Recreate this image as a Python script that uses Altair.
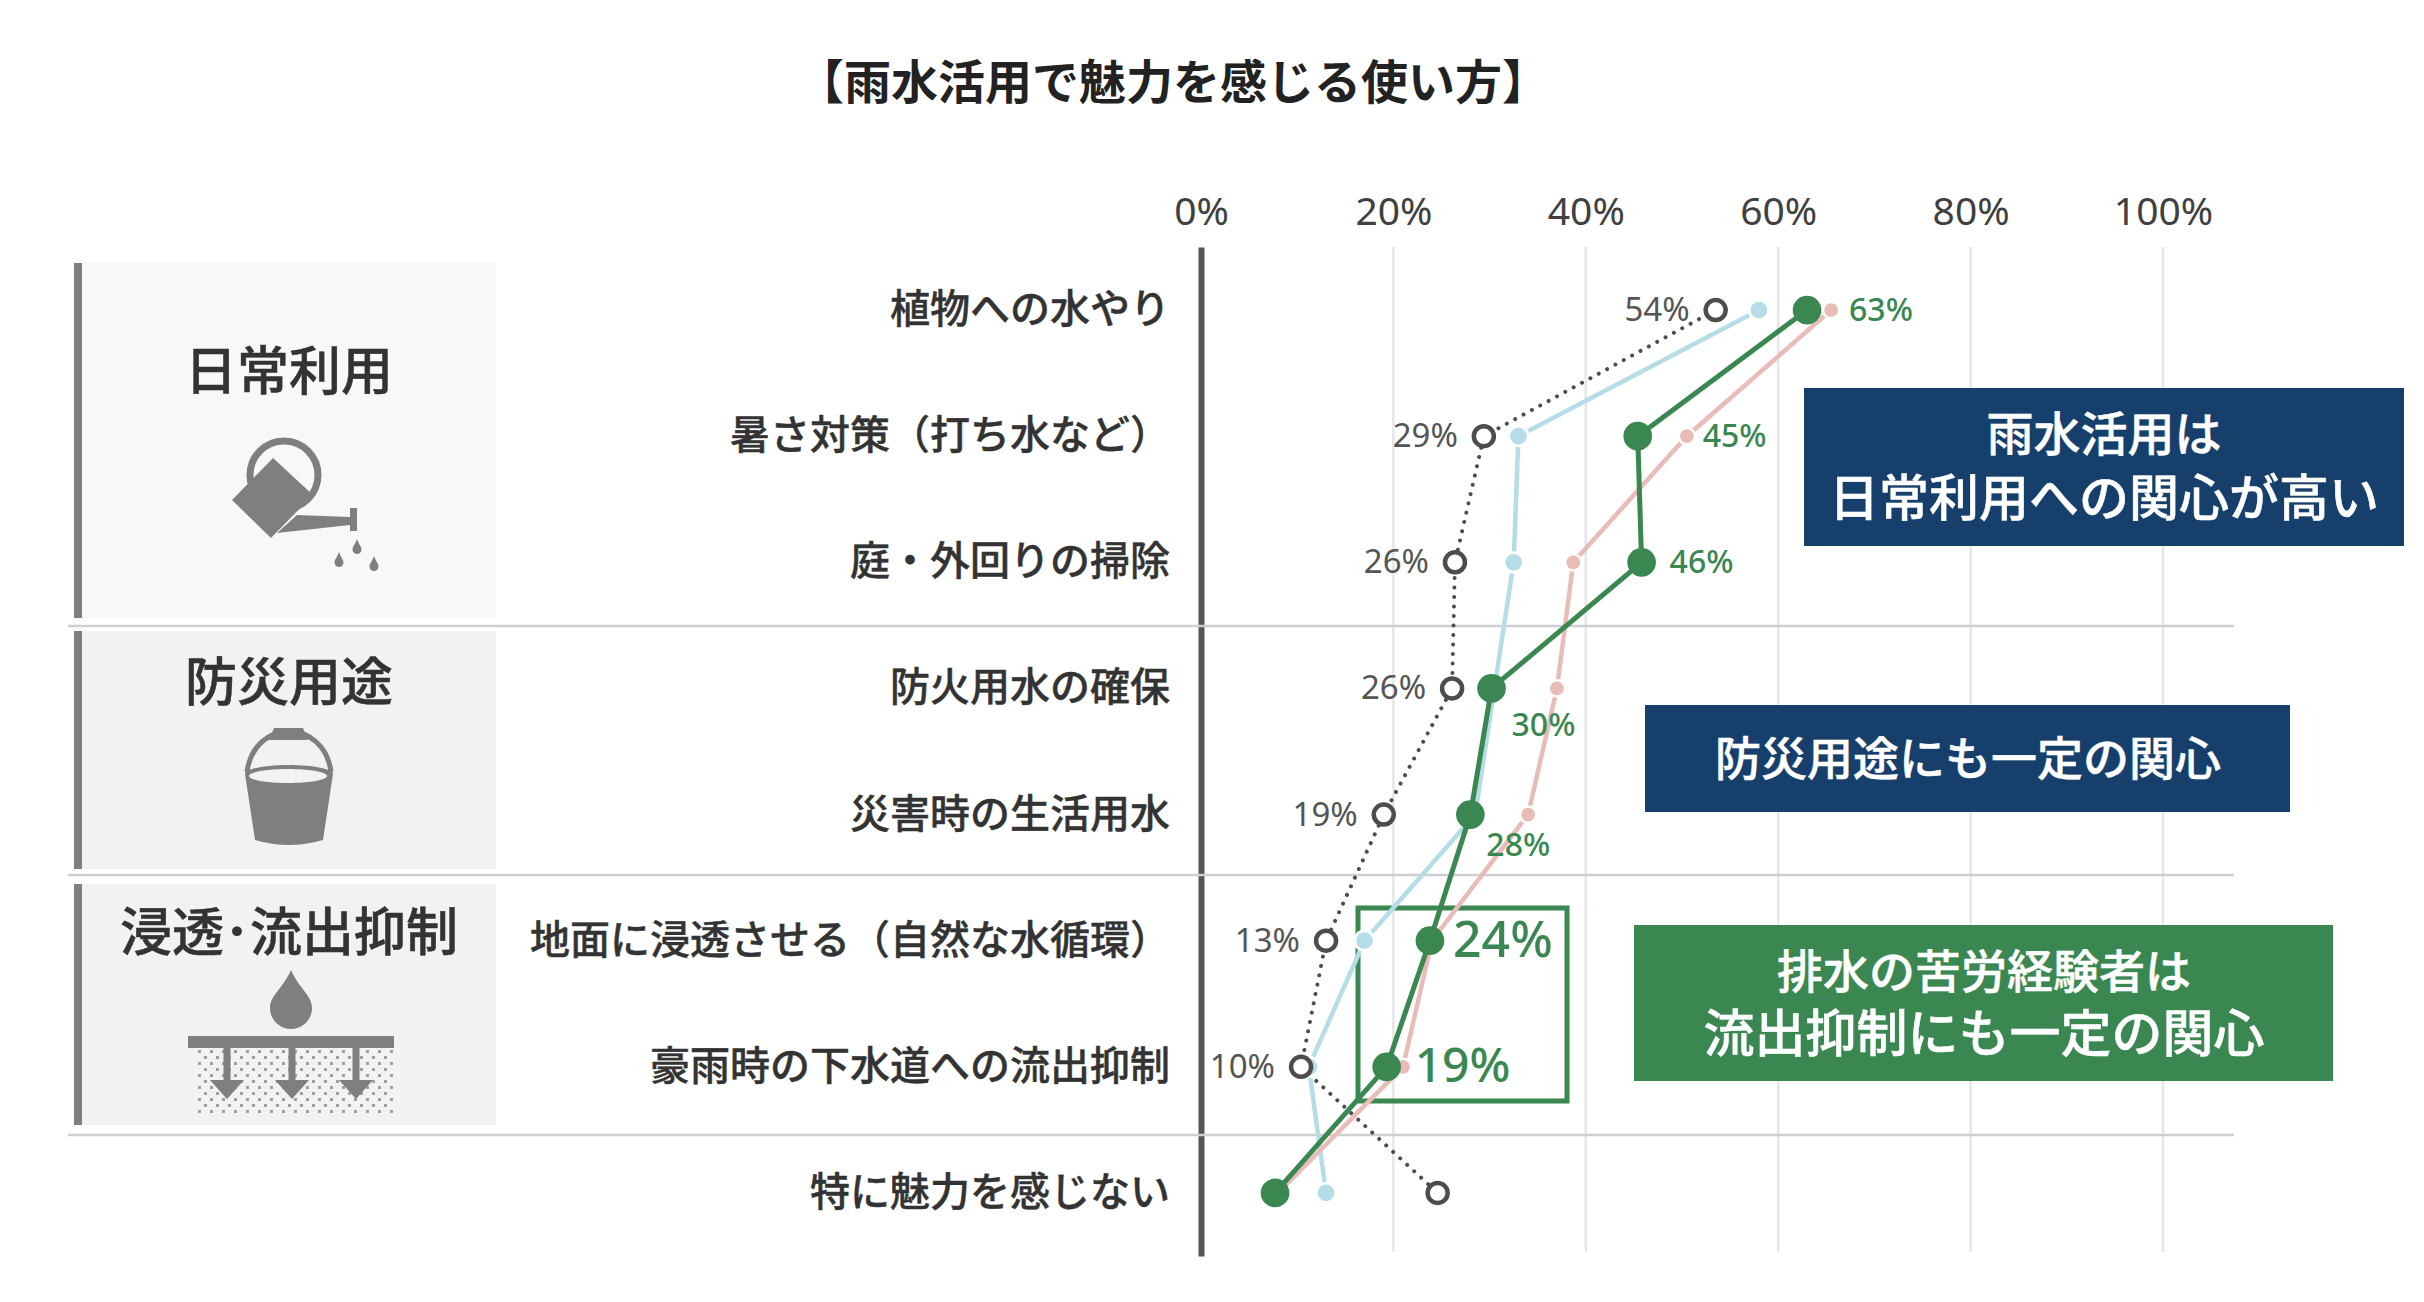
import altair as alt
import pandas as pd

FONT = 'Noto Sans CJK JP'
NUM_FONT = 'Noto Sans'
GREEN = '#3a8752'
NAVY = '#173f6b'
TEAL = '#b5dde8'
PINK = '#e9bcb8'
DARK = '#555555'
ICON = '#7f7f7f'

items = ['植物への水やり', '暑さ対策(打ち水など)', '庭・外回りの掃除', '防火用水の確保', '災害時の生活用水',
         '地面に浸透させる(自然な水循環)', '豪雨時の下水道への流出抑制', '特に魅力を感じない']
items = [s.replace('(', '（').replace(')', '）') for s in items]

overall = [53.5, 29.4, 26.4, 26.1, 19, 13, 10.4, 24.6]
overall_labels = ['54%', '29%', '26%', '26%', '19%', '13%', '10%', '']
teal_vals = [58, 33, 32.5, 30.5, 28.5, 17, 11.2, 13]
pink_vals = [65.5, 50.5, 38.7, 37, 34, 24, 21, 8]
green_vals = [63, 45.4, 45.8, 30.2, 28, 23.8, 19.3, 7.7]
green_labels = ['63%', '45%', '46%', '30%', '28%', '24%', '19%', '']
ticks = [0, 20, 40, 60, 80, 100]

W, H = 2408, 1286
ZERO_PX, PX_PER_PCT = 1193, 9.62
x_scale = alt.Scale(domain=[-ZERO_PX / PX_PER_PCT, (W - ZERO_PX) / PX_PER_PCT], range=[0, W], nice=False, zero=False)
y_scale = alt.Scale(domain=items, range=[239, 1248])

one = pd.DataFrame({'a': [0]})


def frame(vals):
    return pd.DataFrame({'item': items, 'value': vals, 'row': range(len(items))})


def box(x0, x1, y0, y1, color):
    return alt.Chart(one).mark_rect(color=color).encode(x=alt.value(x0), x2=alt.value(x1), y=alt.value(y0), y2=alt.value(y1))


def hline(x0, x1, y):
    return alt.Chart(one).mark_rule(color='#cfcfcf', strokeWidth=2.5).encode(x=alt.value(x0), x2=alt.value(x1), y=alt.value(y))


def label(text, x, y, size, color='#333333', weight=500, font=FONT, bold=0.5):
    return alt.Chart(one).mark_text(text=text, font=font, fontSize=size, fontWeight=weight, color=color, stroke=color, strokeWidth=bold, align='center', baseline='middle').encode(x=alt.value(x), y=alt.value(y))


def glyph(path, fill=ICON):
    # size 4 makes the path's units equal to chart pixels
    return alt.Chart(one).mark_point(shape=path, size=4, filled=True, fill=fill, opacity=1, strokeWidth=0).encode(x=alt.value(0), y=alt.value(0))


def outline(path, width, color=ICON):
    return alt.Chart(one).mark_point(shape=path, size=4, filled=False, stroke=color, opacity=1, strokeWidth=width).encode(x=alt.value(0), y=alt.value(0))


def drop(cx, top, bottom, w):
    r = w / 2
    c = bottom - r
    return f'M{cx} {top} C{cx + r * 0.4} {top + (c - top) * 0.5} {cx + r} {c - r * 0.6} {cx + r} {c} A{r} {r} 0 1 1 {cx - r} {c} C{cx - r} {c - r * 0.6} {cx - r * 0.4} {top + (c - top) * 0.5} {cx} {top} Z'


def series_line(vals, color, width, **kw):
    return alt.Chart(frame(vals)).mark_line(color=color, strokeWidth=width, **kw).encode(
        x=alt.X('value:Q', scale=x_scale), y=alt.Y('item:N', scale=y_scale, sort=items), order='row:Q')


def series_dots(vals, color, size):
    return alt.Chart(frame(vals)).mark_point(filled=True, color=color, size=size, opacity=1).encode(
        x=alt.X('value:Q', scale=x_scale), y=alt.Y('item:N', scale=y_scale, sort=items))


# 左側の区分パネル
panels = [
    box(74, 488, 255, 610, '#f8f8f8'), box(66, 74, 255, 610, ICON),
    box(74, 488, 623, 861, '#f2f2f2'), box(66, 74, 623, 861, ICON),
    box(74, 488, 876, 1117, '#f2f2f2'), box(66, 74, 876, 1117, ICON),
    label('日常利用', 281, 366, 52),
    label('防災用途', 281, 677, 52),
    label('浸透･流出抑制', 281, 927, 52),
]

# じょうろ
can = [
    outline('M242 467 A34 34 0 1 1 310 467 A34 34 0 1 1 242 467 Z', 7),
    glyph('M265 450 L224 492 L263 530 L305 487 Z'),
    glyph('M289 507 L342 509 L342 517 L269 525 Z'),
    glyph('M342 500 L349 500 L349 523 L342 523 Z'),
    glyph(drop(349, 531, 546, 9)),
    glyph(drop(331, 544, 559, 9)),
    glyph(drop(366, 548, 563, 9)),
]

# バケツ
bucket = [
    outline('M239 764 C246 710 316 710 323 764', 5),
    glyph('M261 732 L266 720 L295 720 L300 732 Z'),
    glyph('M237 766 A44 9 0 0 1 325 766 L315 832 Q281 842 247 832 Z'),
    glyph('M241 768 A39 7 0 1 0 319 768 A39 7 0 1 0 241 768 Z', '#f2f2f2'),
]

# 浸透
soil = ''
for j, yy in enumerate(range(1042, 1103, 6)):
    for xx in range(190 + (j % 2) * 6, 383, 12):
        soil += f'M{xx} {yy} h3 v3 h-3 Z '


def arrow(cx):
    return f'M{cx - 3.5} 1040 L{cx + 3.5} 1040 L{cx + 3.5} 1072 L{cx + 17} 1072 L{cx} 1091 L{cx - 17} 1072 L{cx - 3.5} 1072 Z'


ground = [
    glyph(soil, '#a0a0a0'),
    glyph(drop(283, 962, 1021, 42)),
    box(180, 386, 1028, 1040, ICON),
    glyph(arrow(219)), glyph(arrow(284)), glyph(arrow(348)),
]

grid = alt.Chart(pd.DataFrame({'t': ticks[1:]})).mark_rule(color='#e6e6e6', strokeWidth=2.5).encode(
    x=alt.X('t:Q', scale=x_scale), y=alt.value(239), y2=alt.value(1244))

seps = [hline(60, 2226, 618), hline(60, 2226, 867), hline(60, 2226, 1127)]

# 軸は一番下の層に付ける
axes = alt.Chart(frame(overall)).mark_point(opacity=0).encode(
    x=alt.X('value:Q', scale=x_scale, title=None, axis=alt.Axis(
        orient='top', offset=-224, values=ticks, labelExpr="datum.value + '%'", labelFont=NUM_FONT, labelFontSize=39,
        labelColor='#404040', labelPadding=0, domain=False, ticks=False, grid=False, labelFlush=False)),
    y=alt.Y('item:N', scale=y_scale, sort=items, title=None, axis=alt.Axis(
        orient='left', offset=-ZERO_PX, labels=False, domainColor=DARK, domainWidth=6, ticks=False, grid=False)),
)

category_text = alt.Chart(frame(overall)).mark_text(
    font=FONT, fontSize=40, fontWeight=500, color='#333333', stroke='#333333', strokeWidth=0.4, align='right', baseline='middle', dy=1).encode(
    x=alt.value(1162), y=alt.Y('item:N', scale=y_scale, sort=items), text='item:N')

outline_box = alt.Chart(one).mark_rect(fillOpacity=0, stroke=GREEN, strokeWidth=5).encode(
    x=alt.value(1350), x2=alt.value(1559), y=alt.value(900), y2=alt.value(1093))

gray_pts = alt.Chart(frame(overall)).mark_point(filled=True, fill='white', stroke='#4d4d4d', strokeWidth=4.5, size=400, opacity=1).encode(
    x=alt.X('value:Q', scale=x_scale), y=alt.Y('item:N', scale=y_scale, sort=items))

gray_text = alt.Chart(frame(overall).assign(txt=overall_labels)).mark_text(
    font=NUM_FONT, fontSize=33, color=DARK, align='right', baseline='middle', dx=-26, dy=1).encode(
    x=alt.X('value:Q', scale=x_scale), y=alt.Y('item:N', scale=y_scale, sort=items), text='txt:N')

# 緑ラベルの置き場所(dx, dy, 文字サイズ)
green_offsets = [(42, 0, 32), (65, 0, 32), (28, 0, 32), (20, 37, 32), (16, 30, 32), (23, 0, 50), (28, 0, 48), (0, 0, 32)]
green_text = []
for i, txt in enumerate(green_labels):
    if not txt:
        continue
    dx, dy, fs = green_offsets[i]
    green_text.append(
        alt.Chart(frame(green_vals).iloc[[i]].assign(txt=txt)).mark_text(
            font=NUM_FONT, fontSize=fs, fontWeight=500, color=GREEN, align='left', baseline='middle', dx=dx, dy=dy + 1).encode(
            x=alt.X('value:Q', scale=x_scale), y=alt.Y('item:N', scale=y_scale, sort=items), text='txt:N'))

callouts = [
    box(1796, 2396, 380, 538, NAVY),
    label('雨水活用は', 2096, 429, 47, 'white'),
    label('日常利用への関心が高い', 2096, 493, 50, 'white'),
    box(1637, 2282, 697, 804, NAVY),
    label('防災用途にも一定の関心', 1960, 753, 46, 'white'),
    box(1626, 2325, 917, 1073, GREEN),
    label('排水の苦労経験者は', 1976, 966, 46, 'white'),
    label('流出抑制にも一定の関心', 1976, 1029, 51, 'white'),
]

title = label('【雨水活用で魅力を感じる使い方】', 1165, 77, 47, '#222222', 700, bold=0)

chart = alt.layer(
    axes, *panels, *can, *bucket, *ground, grid, *seps,
    outline_box,
    series_line(overall, '#4d4d4d', 4, strokeDash=[0.01, 9.5], strokeCap='round'),
    series_line(teal_vals, TEAL, 4.5),
    series_dots(teal_vals, 'white', 500),
    series_dots(teal_vals, TEAL, 280),
    series_line(pink_vals, PINK, 4.5),
    series_dots(pink_vals, 'white', 350),
    series_dots(pink_vals, PINK, 190),
    gray_pts,
    series_line(green_vals, GREEN, 5),
    series_dots(green_vals, GREEN, 820),
    category_text, gray_text, *green_text, *callouts, title,
).properties(width=W, height=H, padding=0, autosize=alt.AutoSizeParams(type='none'), background='white').configure_view(stroke=None)

chart.save("out.html", embed_options={"renderer": "svg", "actions": False})
